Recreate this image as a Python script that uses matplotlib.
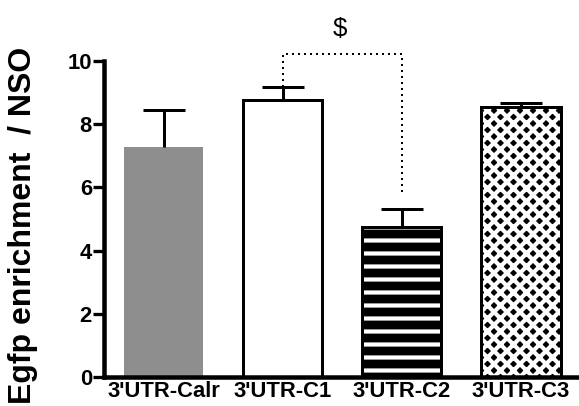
import numpy as np
import matplotlib as mpl
mpl.use('Agg')
import matplotlib.pyplot as plt

DPI = 78                                  # hatch spacing scales with dpi (1 inch / 6)
def pt(px):                               # pixels -> points at this dpi
    return px * 72.0 / DPI

# data
groups = ["3'UTR-Calr", "3'UTR-C1", "3'UTR-C2", "3'UTR-C3"]
means = [7.29, 8.77, 4.76, 8.55]
sems = [1.16, 0.41, 0.57, 0.12]
sig_label = "$"
bracket_top = 10.22          # height of the dotted significance bracket
bracket_drop = 5.84          # where the bracket stops above 3'UTR-C2

mpl.rcParams.update({
    "font.family": ["Liberation Sans", "DejaVu Sans"],
    "font.weight": "bold",
    "hatch.linewidth": pt(4.2),
    "savefig.dpi": DPI,
})

fig = plt.figure(figsize=(579 / DPI, 406 / DPI), dpi=DPI)
ax = fig.add_axes([104 / 579, 29 / 406, 475 / 579, 316 / 406])

x = np.arange(len(groups))
width = 0.67
edge = pt(3)

# fills
ax.bar(x[0], means[0], width, color='#8e8e8e', linewidth=0)
ax.bar(x[1], means[1], width, color='white', edgecolor='black', linewidth=edge)
ax.bar(x[2], means[2], width, color='black', edgecolor='white', hatch='-', linewidth=0)
ax.bar(x[3], means[3], width, color='black', edgecolor='white', hatch='xx', linewidth=0)
# outlines for the hatched bars
ax.bar(x[2:], means[2:], width, fill=False, edgecolor='black', linewidth=edge)

# upward-only error bars
eb = ax.errorbar(x, means, yerr=[np.zeros(len(sems)), sems], fmt='none',
                 ecolor='black', elinewidth=pt(3), capsize=pt(21), capthick=pt(3))
eb[1][0].set_visible(False)

# dotted bracket between C1 and C2
ax.plot([x[1], x[1], x[2], x[2]],
        [means[1] + sems[1], bracket_top, bracket_top, bracket_drop],
        color='black', lw=pt(2), linestyle=(0, (1, 2)), clip_on=False)
ax.text((x[1] + x[2]) / 2 - 0.02, bracket_top + 0.8, sig_label, ha='center', va='center',
        fontsize=pt(26), fontweight='normal', clip_on=False)

ax.set_xlim(-0.5, 3.49)
ax.set_ylim(0, 10)
ax.set_yticks(np.arange(0, 11, 2))
ax.set_xticks(x)
ax.set_xticklabels(groups, fontsize=pt(22), fontweight='bold')
ax.tick_params(axis='x', length=0, pad=pt(4))
ax.tick_params(axis='y', length=pt(11), width=pt(3.3), labelsize=pt(22), pad=pt(1))
for lab in ax.get_yticklabels():
    lab.set_fontweight('bold')

for side in ('top', 'right'):
    ax.spines[side].set_visible(False)
for side in ('left', 'bottom'):
    ax.spines[side].set_linewidth(pt(4.5))

ax.set_ylabel("Egfp enrichment  / NSO", fontsize=pt(32), fontweight='bold')
ax.yaxis.set_label_coords((38 - 104) / 475, 0.481)

fig.savefig('out.png', dpi=DPI)
